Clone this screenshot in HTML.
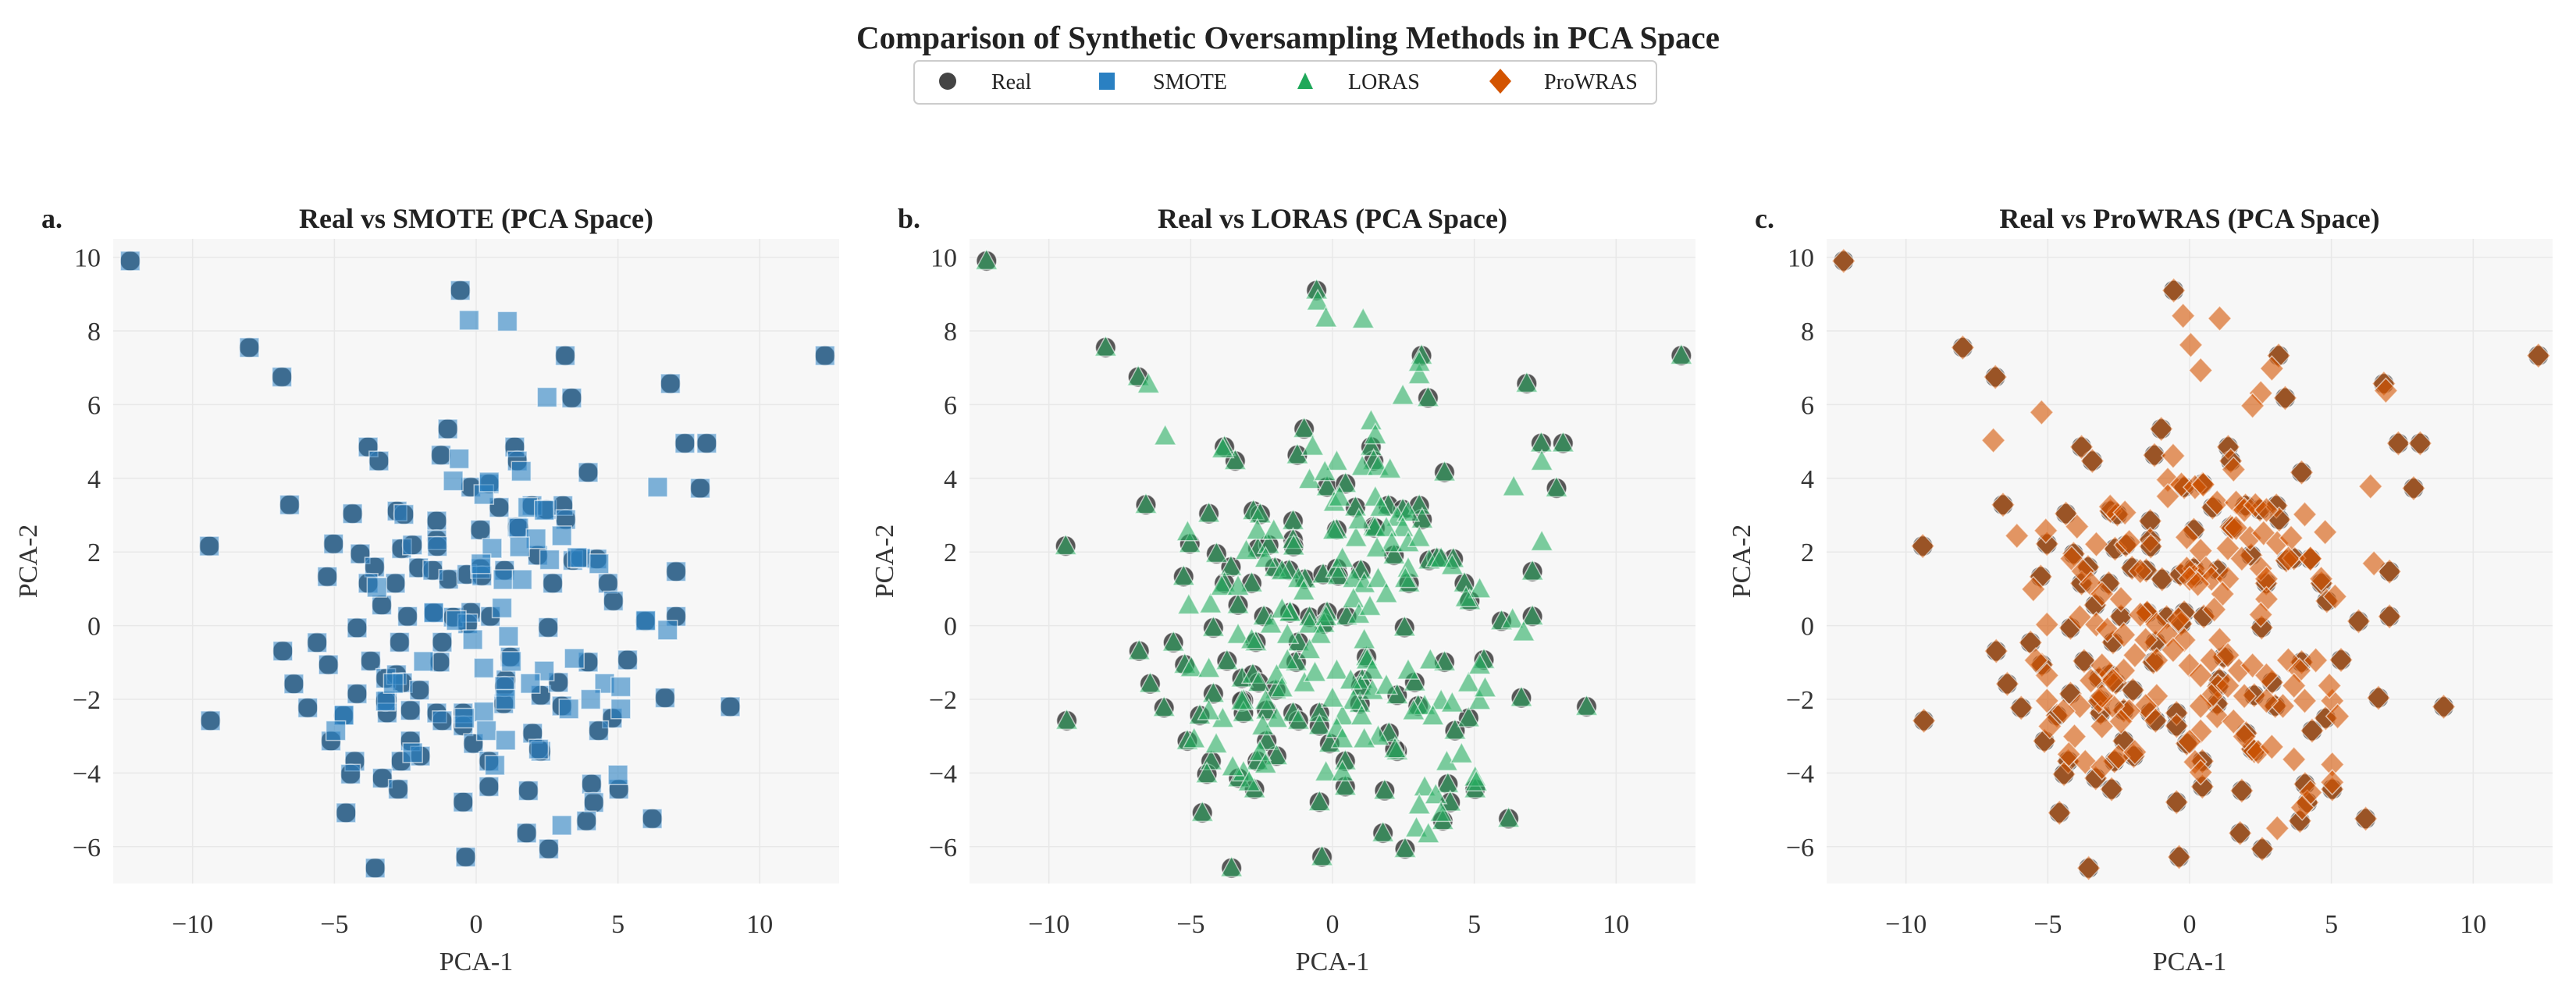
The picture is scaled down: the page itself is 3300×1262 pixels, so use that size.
<!DOCTYPE html>
<html><head><meta charset="utf-8"><style>
html,body{margin:0;padding:0;background:#fff;}
svg{display:block;font-family:"Liberation Serif","DejaVu Serif",serif;}
</style></head><body>
<svg id="chart" xmlns="http://www.w3.org/2000/svg" width="3300" height="1262" viewBox="0 0 3300 1262">
<text x="1650" y="62" text-anchor="middle" font-size="41" font-weight="bold" fill="#222">Comparison of Synthetic Oversampling Methods in PCA Space</text>
<g>
<rect x="1171" y="78" width="951" height="55" rx="6" fill="#fff" stroke="#ccc" stroke-width="2"/>
<g><circle cx="1214" cy="104" r="11" fill="#444"/><text x="1270" y="114" font-size="28" fill="#222">Real</text></g>
<g><rect x="1408" y="93" width="20" height="22" fill="#2a80c2"/><text x="1477" y="114" font-size="28" fill="#222">SMOTE</text></g>
<g><polygon points="1672,93 1682,114 1662,114" fill="#1fa85a"/><text x="1727" y="114" font-size="28" fill="#222">LORAS</text></g>
<g><polygon points="1922,88 1936,104 1922,120 1908,104" fill="#d35400"/><text x="1978" y="114" font-size="28" fill="#222">ProWRAS</text></g>
</g>
</svg>
<script>
const realX=[-12.2,-0.56,-8.0,-6.85,3.14,12.3,6.85,3.37,-1.0,-3.81,-3.43,-1.24,1.36,1.45,7.36,8.13,3.95,7.9,-6.58,-4.36,-0.19,0.46,0.81,-2.79,-2.55,-1.39,1.97,2.48,3.06,3.16,0.15,1.45,-1.39,-1.37,-9.41,-5.03,-2.63,-2.25,-4.09,-3.58,-5.25,-2.03,-1.53,-0.97,-0.33,0.15,1.0,-2.85,4.26,3.41,3.68,2.17,7.05,4.65,4.84,-3.81,-3.33,-2.42,-4.2,-1.49,-0.81,-0.19,2.54,5.96,7.05,-5.61,-6.82,-5.21,-3.72,5.34,3.95,-3.19,-2.81,-6.43,-4.2,-2.6,-1.28,1.05,2.28,2.9,6.66,8.96,-5.94,-3.14,-3.14,-2.32,-1.39,-0.46,0.97,3.02,-4.68,-1.2,-0.46,4.8,4.32,-9.37,-5.12,-2.32,-0.1,1.99,2.28,-4.28,-1.97,-2.65,-4.43,-3.31,-2.75,0.45,0.45,1.84,4.07,5.03,4.15,-4.59,-0.46,6.21,3.89,1.78,2.56,-0.37,-3.56,-2.7,-3.2,-1.5,1.2,2.7,0.5,1.0,2.2,-2.0,0.2,-0.3,1.5,-1.2];
const realY=[9.9,9.1,7.55,6.75,7.33,7.33,6.57,6.18,5.34,4.85,4.47,4.63,4.85,4.47,4.95,4.95,4.16,3.73,3.28,3.04,3.76,3.85,3.21,3.11,3.02,2.84,3.26,3.15,3.26,2.88,2.6,2.68,2.33,2.15,2.16,2.22,2.09,2.19,1.95,1.59,1.33,1.57,1.5,1.26,1.39,1.55,1.5,1.15,1.81,1.77,1.83,1.91,1.47,1.15,0.67,1.15,0.56,0.25,-0.06,0.36,0.23,0.36,-0.05,0.12,0.25,-0.46,-0.69,-1.06,-0.96,-0.93,-0.99,-1.43,-1.33,-1.58,-1.85,-1.55,-0.99,-1.47,-1.89,-1.54,-1.96,-2.2,-2.23,-2.03,-2.37,-2.3,-2.37,-2.37,-2.12,-2.18,-2.44,-2.58,-2.72,-2.51,-2.85,-2.58,-3.13,-3.13,-3.2,-2.92,-3.41,-3.68,-3.54,-3.68,-4.03,-4.14,-4.44,-3.68,-4.37,-4.48,-4.3,-4.44,-4.8,-5.08,-4.79,-5.24,-5.3,-5.63,-6.06,-6.28,-6.58,-0.45,-2.05,0.35,-0.85,1.15,0.25,-1.65,-3.35,-1.75,1.35,0.05,2.65,-0.45];
const smoteX=[-0.25,1.1,2.5,-0.6,1.59,-0.81,6.4,0.27,0.46,1.82,2.4,3.02,2.11,0.56,1.53,2.59,3.56,4.33,0.17,0.95,1.62,-3.5,0.91,-0.7,-0.12,1.14,6.75,5.98,1.24,3.46,-1.86,0.27,2.4,1.91,4.53,5.1,1.04,4.04,3.27,5.1,0.27,-4.66,-0.41,0.36,1.04,-2.24,0.66,5.0,3.02,-2.92,-4.95];
const smoteY=[8.29,8.26,6.2,4.53,4.19,3.93,3.76,3.56,3.9,3.21,3.13,2.44,2.36,2.1,2.14,1.79,1.85,1.68,1.68,1.25,1.25,1.04,0.48,0.14,-0.38,-0.29,-0.12,0.14,-0.97,-0.89,-0.97,-1.15,-1.23,-1.57,-1.57,-1.66,-2.0,-2.0,-2.26,-2.26,-2.34,-2.43,-2.51,-2.85,-3.11,-3.45,-3.79,-4.05,-5.42,-1.57,-2.85];
const lorasX=[-0.52,-0.23,1.08,3.06,3.06,2.48,-6.49,-5.9,1.36,1.51,-0.7,0.15,1.05,1.61,2.03,-0.81,-0.27,7.38,6.39,7.38,-3.87,0.06,0.25,1.51,1.7,2.28,2.67,2.48,1.9,2.09,2.67,3.06,1.57,0.83,0.93,0.04,-2.65,-2.07,-3.04,-2.36,-1.78,-1.2,-1.01,0.35,0.74,1.12,1.61,1.9,0.74,0.93,1.32,2.67,2.57,3.83,4.22,5.19,4.71,6.35,6.74,-5.11,-5.07,-4.3,-3.91,-3.33,-4.98,-4.36,-3.33,-2.85,-2.17,-1.78,-1.59,-0.81,-0.23,-0.43,-0.81,-1.59,-1.97,-1.78,-2.36,-0.99,-0.62,0.15,0.64,1.12,1.22,1.41,1.41,0.74,1.9,2.67,3.45,3.25,3.83,4.22,4.8,5.19,5.19,5.38,3.54,2.86,0.35,0.15,0.35,1.03,1.61,1.12,0,-1.97,-2.46,-3.87,-4.36,-4.88,-4.1,-2.56,-2.36,-3.14,-3.52,-2.94,-0.23,0.35,3.25,3.64,3.06,4.03,4.55,5.03,2.96,3.38,3.83,5.07];
const lorasY=[8.8,8.34,8.31,6.8,7.14,6.24,6.55,5.14,5.55,5.17,4.86,4.45,4.31,4.31,4.24,3.96,4.17,4.45,3.76,2.27,4.79,3.34,3.48,3.48,3.2,2.93,3.07,2.65,2.65,2.24,2.24,2.38,2.1,2.38,2.86,2.58,2.58,2.58,2.03,1.82,1.48,1.27,0.93,1.82,1.27,1.13,1.27,0.86,0.72,0.3,0.51,1.55,1.27,1.82,1.62,0.99,0.75,0.17,-0.18,2.54,0.55,0.58,1.06,1.06,-1.15,-1.17,-0.25,-0.39,0.03,0.44,-0.25,0.03,0.23,-0.25,-0.66,-0.94,-1.35,-1.7,-2.04,-1.56,-1.28,-1.22,-1.49,-0.39,-0.94,-1.22,-1.77,-2.04,-1.63,-1.22,-0.94,-2.18,-2.04,-2.11,-1.56,-1.08,-2.04,-1.7,-2.46,-2.32,-2.46,-2.8,-3.08,-2.46,-3.01,-3.08,-1.98,-2.53,-2.73,-2.53,-2.32,-3.08,-3.22,-3.43,-3.77,-3.98,-3.84,-4.25,-3.98,-3.98,-4.39,-4.6,-4.88,-3.7,-3.49,-4.12,-5.5,-5.66,-5.08,-4.25];
const prowrasX=[-0.23,1.06,0.04,0.39,2.9,2.51,2.22,6.92,-5.22,-6.92,-0.58,1.55,-0.77,-0.77,-0.29,0.19,0.48,0.97,6.38,4.06,4.78,-6.09,-5.07,-3.97,-3.29,-2.8,-2.28,-2.13,-0.1,1.64,1.93,2.32,2.71,1.64,2.13,2.61,3.09,3.58,1.35,1.84,2.51,2.71,3.48,4.26,4.64,5.13,6.5,0.39,0.58,0.77,1.35,1.16,0.87,-0.1,0,0.29,-4.16,-3.77,-3.48,-3.09,-2.42,-1.74,-5.51,-5.03,-3.87,-3.29,-2.9,-2.32,-1.74,-1.16,-0.77,-0.39,-0.19,-1.55,-1.93,-2.32,-2.71,-3.09,-3.48,-1.16,-0.58,0,0.39,0.77,1.06,1.35,1.74,2.22,2.71,3.48,3.87,4.45,3.68,4.06,3.29,2.71,1.93,1.35,0.77,0.39,0.97,1.55,1.93,2.42,2.9,0.39,0,0.19,0.39,5.03,5.22,4.93,3.68,5.03,5.03,4.26,3.97,3.09,-1.16,-1.55,-2.13,-2.71,-3.09,-3.09,-3.87,-4.45,-4.93,-4.06,-4.26,-3.68,-3.09,-2.51,-1.93,-5.03,-5.42,-5.03,2.71,2.51,-2.42];
const prowrasY=[8.41,8.34,7.62,6.93,6.98,6.31,5.97,6.38,5.79,5.03,4.61,4.24,3.96,3.51,3.83,3.76,3.83,3.34,3.78,3.02,2.54,2.44,2.58,2.69,2.21,3.23,3.07,2.27,2.4,3.34,3.14,3.27,3.14,2.65,2.38,2.51,2.24,2.38,2.1,1.82,1.55,1.27,1.82,1.82,1.27,0.79,1.69,2.03,1.55,1.27,1.27,0.86,0.44,1.55,1.27,1.13,1.82,1.48,1.13,0.86,0.72,1.48,0.99,0.03,0.23,0.03,-0.11,-0.25,0.3,0.03,-0.25,0.17,-0.39,-0.39,-0.8,-1.22,-1.49,-1.08,-1.49,-0.94,-0.66,-1.08,-1.35,-0.94,-0.39,-0.8,-1.22,-1.08,-1.35,-0.94,-1.22,-0.94,-1.63,-2.04,-2.18,-2.04,-1.91,-1.63,-1.91,-2.18,-2.46,-2.6,-3.01,-3.43,-3.29,-2.87,-3.15,-3.7,-3.98,-2.04,-2.46,-1.63,-3.63,-3.77,-4.25,-4.53,-4.94,-5.5,-1.91,-2.18,-2.32,-2.18,-2.73,-1.91,-2.18,-2.32,-2.73,-3.01,-3.49,-3.7,-3.84,-3.56,-3.43,-2.04,-0.94,-1.35,0.72,0.3,-2.6];
const xTicks=[-10,-5,0,5,10];
const yTicks=[-6,-4,-2,0,2,4,6,8,10];
const xTickLabels=["\u221210","\u22125","0","5","10"];
const yTickLabels=["\u22126","\u22124","\u22122","0","2","4","6","8","10"];

const NS="http://www.w3.org/2000/svg";
const svg=document.getElementById('chart');
const XMIN=-12.8,XMAX=12.8,YMIN=-7,YMAX=10.5;
const PW=930,PT=306,PB=1132;
function mk(tag,attrs,parent){const e=document.createElementNS(NS,tag);for(const k in attrs)e.setAttribute(k,attrs[k]);parent.appendChild(e);return e;}

const panels=[
 {left:145,letter:"a.",title:"Real vs SMOTE (PCA Space)",name:"smote",xs:smoteX,ys:smoteY,color:"#2a80c2",shape:"square"},
 {left:1242,letter:"b.",title:"Real vs LORAS (PCA Space)",name:"loras",xs:lorasX,ys:lorasY,color:"#27ae60",shape:"triangle"},
 {left:2340,letter:"c.",title:"Real vs ProWRAS (PCA Space)",name:"prowras",xs:prowrasX,ys:prowrasY,color:"#d35400",shape:"diamond"}
];

function drawMarker(g,shape,cx,cy,fill,op){
 let e;
 if(shape==="square"){e=mk('rect',{x:cx-12.5,y:cy-12.5,width:25,height:25},g);}
 else if(shape==="triangle"){e=mk('polygon',{points:`${cx},${cy-15} ${cx+14},${cy+11} ${cx-14},${cy+11}`},g);}
 else if(shape==="diamond"){e=mk('polygon',{points:`${cx},${cy-16} ${cx+15},${cy} ${cx},${cy+16} ${cx-15},${cy}`},g);}
 else {e=mk('circle',{cx:cx,cy:cy,r:13},g);}
 e.setAttribute('fill',fill);e.setAttribute('fill-opacity',op);
 e.setAttribute('stroke','#fff');e.setAttribute('stroke-opacity','0.6');e.setAttribute('stroke-width','1.5');
 return e;
}

panels.forEach(p=>{
 const sx=v=>p.left+(v-XMIN)/(XMAX-XMIN)*PW;
 const sy=v=>PB-(v-YMIN)/(YMAX-YMIN)*(PB-PT);
 const g=mk('g',{},svg);
 
 
 const bg=mk('rect',{x:p.left,y:PT,width:PW,height:PB-PT,fill:"#f7f7f7"},g);
 
 
 xTicks.forEach((t,i)=>{
  const l=mk('line',{x1:sx(t),x2:sx(t),y1:PT,y2:PB,stroke:"#e8e8e8","stroke-width":1.5},g);
  
  
  const tx=mk('text',{x:sx(t),y:1195,"text-anchor":"middle","font-size":34,fill:"#333"},g);
  tx.textContent=xTickLabels[i];
  
  
 });
 yTicks.forEach((t,i)=>{
  const l=mk('line',{x1:p.left,x2:p.left+PW,y1:sy(t),y2:sy(t),stroke:"#e8e8e8","stroke-width":1.5},g);
  
  
  const tx=mk('text',{x:p.left-16,y:sy(t)+12,"text-anchor":"end","font-size":34,fill:"#333"},g);
  tx.textContent=yTickLabels[i];
  
  
 });
 const xl=mk('text',{x:p.left+PW/2,y:1243,"text-anchor":"middle","font-size":34,fill:"#333"},g);
 xl.textContent="PCA-1";
 
 
 const yx=p.left-110,yy=(PT+PB)/2;
 const yl=mk('text',{x:yx,y:yy,"text-anchor":"middle","font-size":34,fill:"#333",transform:`rotate(-90 ${yx} ${yy}) translate(0 12)`},g);
 yl.textContent="PCA-2";
 
 
 const tt=mk('text',{x:p.left+PW/2,y:292,"text-anchor":"middle","font-size":36,"font-weight":"bold",fill:"#222"},g);
 tt.textContent=p.title;
 
 
 const lt=mk('text',{x:p.left-92,y:292,"font-size":36,"font-weight":"bold",fill:"#222"},g);
 lt.textContent=p.letter;
 
 
 const clip=mk('clipPath',{id:'clip-'+p.name},g);
 mk('rect',{x:p.left,y:PT,width:PW,height:PB-PT},clip);
 const mg=mk('g',{"clip-path":`url(#clip-${p.name})`},g);
 
 
 realX.forEach((x,i)=>{
  const m=drawMarker(mg,"circle",sx(x),sy(realY[i]),"#444444",0.9);
  
  
 });
 realX.forEach((x,i)=>{
  const m=drawMarker(mg,p.shape,sx(x),sy(realY[i]),p.color,0.55);
  
  
 });
 p.xs.forEach((x,i)=>{
  const m=drawMarker(mg,p.shape,sx(x),sy(p.ys[i]),p.color,0.6);
  
  
 });
});
</script>
</body></html>
